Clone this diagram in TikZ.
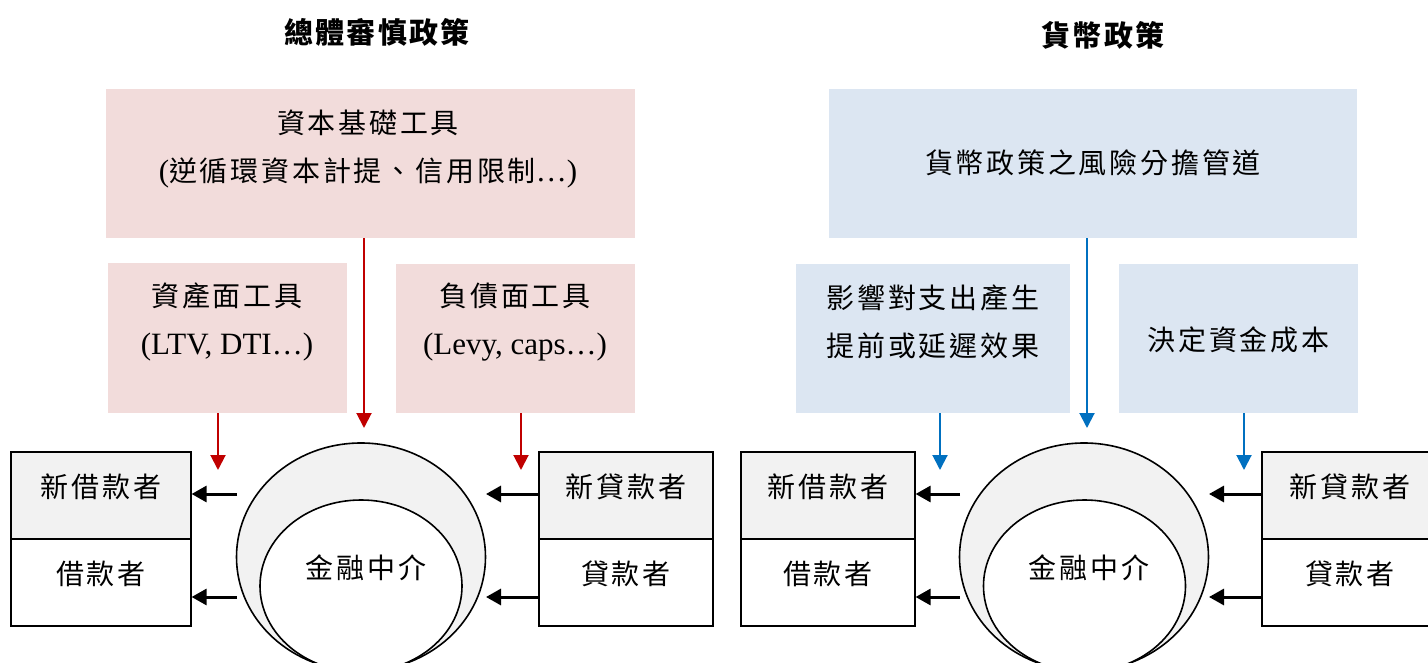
\documentclass[tikz,border=0pt]{standalone}
\usepackage{fontspec}
\setmainfont{Liberation Serif}
\newfontfamily\cjkf[LetterSpace=10]{Noto Sans CJK TC}
\newfontfamily\cjkt[LetterSpace=7]{Noto Sans CJK TC}
\usetikzlibrary{arrows.meta,shapes.geometric}
\newcommand{\lt}[1]{{\rmfamily\fontsize{31}{48}\selectfont #1}}
\definecolor{pinkfill}{HTML}{F2DCDB}
\definecolor{bluefill}{HTML}{DCE6F2}
\definecolor{cellgray}{HTML}{F2F2F2}
\definecolor{redarr}{HTML}{C00000}
\definecolor{bluearr}{HTML}{0070C0}
\tikzset{
  pbox/.style={fill=pinkfill, draw=none, inner sep=0pt},
  bbox/.style={fill=bluefill, draw=none, inner sep=0pt},
  cell/.style={draw=black, line width=1.2pt, inner sep=0pt, minimum width=#1, minimum height=87pt},
  txt/.style={font=\cjkf\fontsize{28}{48}\selectfont, align=center, inner sep=0pt},
  ttl/.style={font=\cjkt\bfseries\fontsize{29}{30}\selectfont, inner sep=0pt},
  redA/.style={draw=redarr, line width=2pt, -{Triangle[width=15pt,length=15pt]}},
  bluA/.style={draw=bluearr, line width=2pt, -{Triangle[width=15pt,length=15pt]}},
  blkA/.style={draw=black, line width=3pt, -{Triangle[width=16pt,length=15pt]}},
  outerE/.style={ellipse, draw=black, line width=1.6pt, fill=cellgray, minimum width=249pt, minimum height=228pt, inner sep=0pt},
  innerE/.style={ellipse, draw=black, line width=1.6pt, fill=white, minimum width=202pt, minimum height=172pt, inner sep=0pt},
}
\begin{document}
\begin{tikzpicture}[x=1pt,y=-1pt]
\clip (0,0) rectangle (1428,663);
\fill[white] (0,0) rectangle (1428,663);

% ---------- titles
\node[ttl] (t1) at (377,32) {總體審慎政策};
\node[ttl] (t2) at (1103,35) {貨幣政策};

% ---------- left: macroprudential
\node[pbox, minimum width=529pt, minimum height=149pt] (cap) at (370.5,163.5) {};
\node[txt] (capT) at (368,149) {資本基礎工具\\\lt{(}逆循環資本計提、信用限制\lt{…)}};
\node[pbox, minimum width=239pt, minimum height=150pt] (ast) at (227.5,338) {};
\node[txt] (astT) at (227,322) {資產面工具\\\lt{(LTV, DTI…)}};
\node[pbox, minimum width=239pt, minimum height=149pt] (lia) at (515.5,338.5) {};
\node[txt] (liaT) at (515,322) {負債面工具\\\lt{(Levy, caps…)}};

\node[cell=180pt, fill=cellgray] (nbL) at (101,495.5) {};
\node[cell=180pt] (bL) at (101,582.5) {};
\node[txt] (nbLT) at (101,487) {新借款者};
\node[txt] (bLT) at (101,574) {借款者};
\node[cell=174pt, fill=cellgray] (nlL) at (626,495.5) {};
\node[cell=174pt] (lL) at (626,582.5) {};
\node[txt] (nlLT) at (626,487) {新貸款者};
\node[txt] (lLT) at (626,574) {貸款者};

\node[outerE] (oL) at (361,557) {};
\node[innerE] (iL) at (361,586) {};
\node[txt] (fiL) at (366,568) {金融中介};

\coordinate (rL1) at (364,428);
\coordinate (rL2) at (218,470);
\coordinate (rL3) at (521,470);
\draw[redA] (rL1 |- cap.south) -- (rL1);
\draw[redA] (rL2 |- ast.south) -- (rL2);
\draw[redA] (rL3 |- lia.south) -- (rL3);

\coordinate (aL1) at (237,494);
\coordinate (aL2) at (237,597);
\coordinate (aR1) at (486,494);
\coordinate (aR2) at (486,597);
\draw[blkA] (aL1) -- (aL1 -| nbL.east);
\draw[blkA] (aL2) -- (aL2 -| bL.east);
\draw[blkA] (aR1 -| nlL.west) -- (aR1);
\draw[blkA] (aR2 -| lL.west) -- (aR2);

% ---------- right: monetary policy
\node[bbox, minimum width=528pt, minimum height=149pt] (rsk) at (1093,163.5) {};
\node[txt] (rskT) at (1093,163) {貨幣政策之風險分擔管道};
\node[bbox, minimum width=274pt, minimum height=149pt] (tim) at (933,338.5) {};
\node[txt] (timT) at (933,321.5) {影響對支出產生\\提前或延遲效果};
\node[bbox, minimum width=239pt, minimum height=149pt] (cst) at (1238.5,338.5) {};
\node[txt] (cstT) at (1238.5,340) {決定資金成本};

\node[cell=174pt, fill=cellgray] (nbR) at (828,495.5) {};
\node[cell=174pt] (bR) at (828,582.5) {};
\node[txt] (nbRT) at (828,487) {新借款者};
\node[txt] (bRT) at (828,574) {借款者};
\node[cell=170pt, fill=cellgray] (nlR) at (1347,495.5) {};
\node[cell=170pt] (lR) at (1347,582.5) {};
\node[txt] (nlRT) at (1350,487) {新貸款者};
\node[txt] (lRT) at (1350,574) {貸款者};

\node[outerE] (oR) at (1084,557) {};
\node[innerE] (iR) at (1084.5,586) {};
\node[txt] (fiR) at (1089,568) {金融中介};

\coordinate (bL1) at (1087,428);
\coordinate (bL2) at (940,470);
\coordinate (bL3) at (1244,470);
\draw[bluA] (bL1 |- rsk.south) -- (bL1);
\draw[bluA] (bL2 |- tim.south) -- (bL2);
\draw[bluA] (bL3 |- cst.south) -- (bL3);

\coordinate (cL1) at (960,494);
\coordinate (cL2) at (960,597);
\coordinate (cR1) at (1209,494);
\coordinate (cR2) at (1209,597);
\draw[blkA] (cL1) -- (cL1 -| nbR.east);
\draw[blkA] (cL2) -- (cL2 -| bR.east);
\draw[blkA] (cR1 -| nlR.west) -- (cR1);
\draw[blkA] (cR2 -| lR.west) -- (cR2);
\end{tikzpicture}
\end{document}
